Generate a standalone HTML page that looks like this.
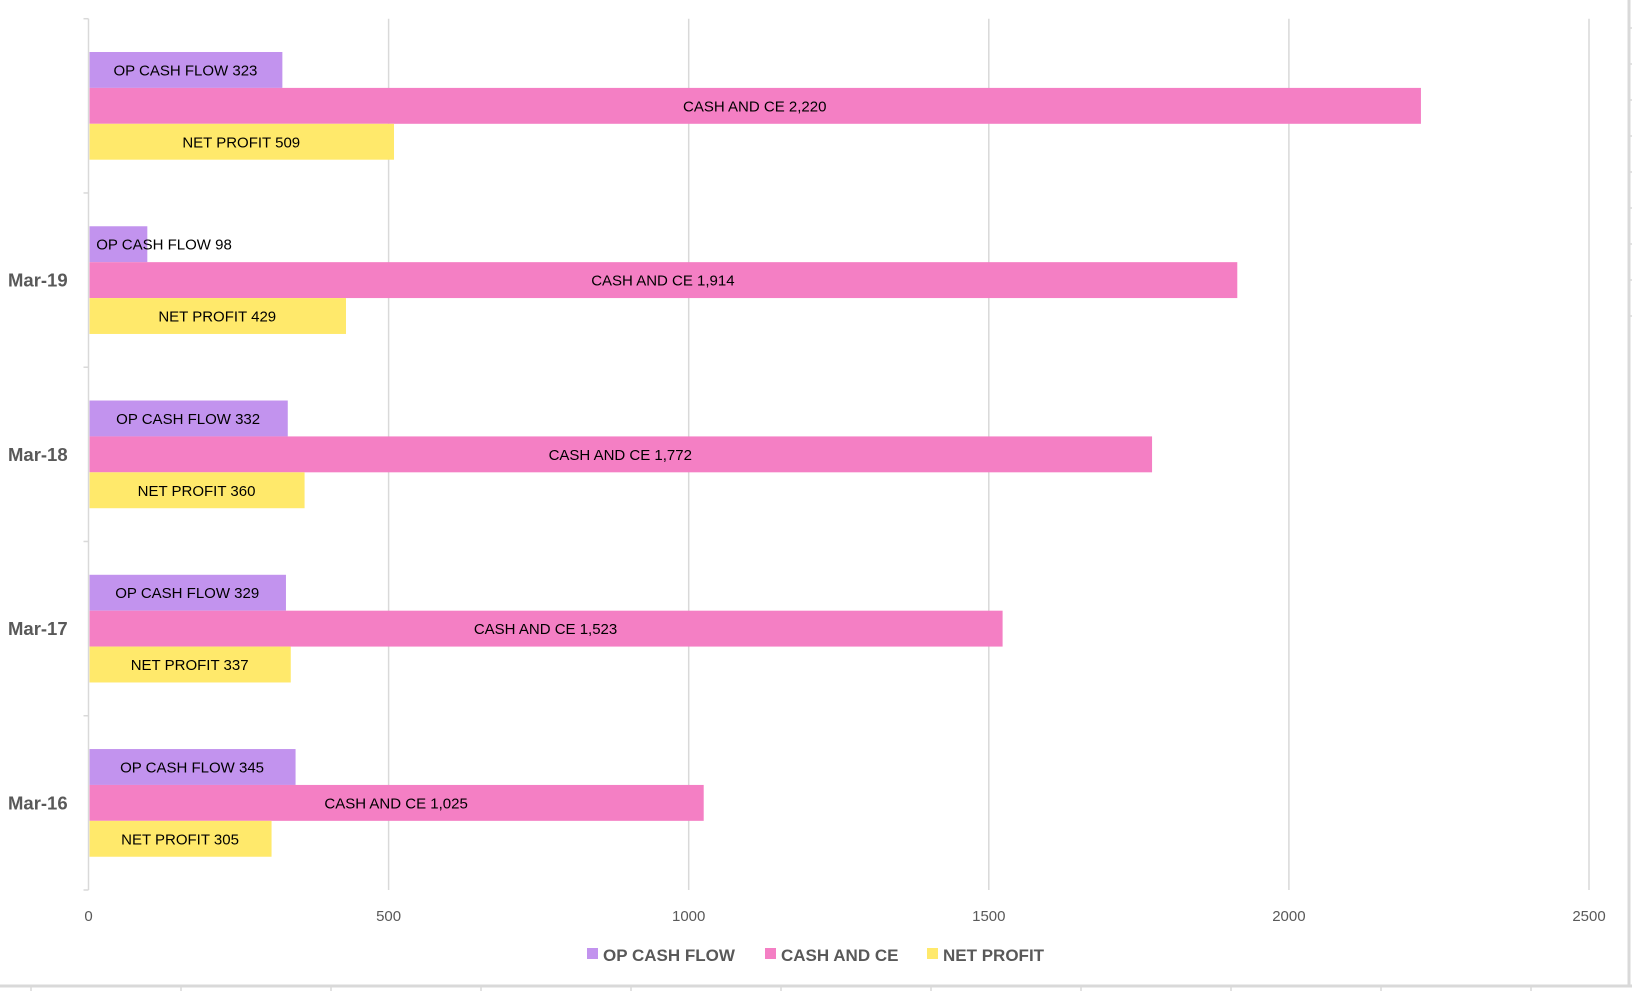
<!DOCTYPE html>
<html><head><meta charset="utf-8"><style>
html,body{margin:0;padding:0;background:#fff;}
svg{display:block;font-family:"Liberation Sans",sans-serif;}
</style></head><body>
<svg id="chart" width="1632" height="991" viewBox="0 0 1632 991" xmlns="http://www.w3.org/2000/svg">
<g id="frame"></g>
<g id="grid"></g>
<g id="bars"></g>
<g id="labels"></g>
<g id="axes"></g>
<g id="legend"></g>
</svg>
<script>
const categories = ["", "Mar-19", "Mar-18", "Mar-17", "Mar-16"];
const opCashFlow = [323, 98, 332, 329, 345];
const cashAndCe = [2220, 1914, 1772, 1523, 1025];
const netProfit = [509, 429, 360, 337, 305];
const xTicks = [0, 500, 1000, 1500, 2000, 2500];
const seriesNames = ["OP CASH FLOW", "CASH AND CE", "NET PROFIT"];

const NS = "http://www.w3.org/2000/svg";
const X0 = 88.5, X1 = 1589, XMAX = 2500;
const TOP = 18.7, BOT = 890;
const band = (BOT - TOP) / categories.length;
const barH = 35.9, groupOff = 33.3;
const colors = ["#C293EE", "#F47FC4", "#FFE96B"];
const series = [opCashFlow, cashAndCe, netProfit];
function xs(v){ return X0 + v * (X1 - X0) / XMAX; }
function el(tag, attrs, parent){
  const e = document.createElementNS(NS, tag);
  for (const k in attrs) e.setAttribute(k, attrs[k]);
  parent.appendChild(e); return e;
}
const gFrame = document.getElementById('frame');
const gGrid = document.getElementById('grid');
const gBars = document.getElementById('bars');
const gLab = document.getElementById('labels');
const gAx = document.getElementById('axes');
const gLeg = document.getElementById('legend');

let fl = el('line', {x1:0, y1:986, x2:1632, y2:986, stroke:'#d9d9d9', 'stroke-width':3}, gFrame);


fl = el('line', {x1:1629, y1:0, x2:1629, y2:986, stroke:'#d9d9d9', 'stroke-width':3}, gFrame);


for (let i = 0; i < 11; i++) {
  const t = el('line', {x1:31 + i*150, y1:986, x2:31 + i*150, y2:991, stroke:'#d9d9d9', 'stroke-width':1.5}, gFrame);
  
  
}
for (let i = 0; i < 9; i++) {
  const t = el('line', {x1:1629, y1:28 + i*36, x2:1632, y2:28 + i*36, stroke:'#d9d9d9', 'stroke-width':1.5}, gFrame);
  
  
}

xTicks.forEach(v => {
  if (v > 0) {
    const g = el('line', {x1:xs(v), y1:TOP, x2:xs(v), y2:BOT, stroke:'#d9d9d9', 'stroke-width':1.5}, gGrid);
    
    
  }
  const t = el('text', {x:xs(v), y:921, 'text-anchor':'middle', 'font-size':15, fill:'#595959'}, gAx);
  t.textContent = v;
  
  
});
const ax = el('line', {x1:X0, y1:TOP, x2:X0, y2:BOT, stroke:'#d9d9d9', 'stroke-width':1.5}, gAx);


for (let i = 0; i <= categories.length; i++) {
  const y = TOP + i*band;
  const t = el('line', {x1:X0-5, y1:y, x2:X0, y2:y, stroke:'#d9d9d9', 'stroke-width':1.5}, gAx);
  
  
}
categories.forEach((c, i) => {
  const gy = TOP + i*band + groupOff;
  if (c) {
    const t = el('text', {x:8, y:gy + barH*1.5 + 6.5, 'font-size':18.5, 'font-weight':'bold', fill:'#595959'}, gAx);
    t.textContent = c;
    
    
  }
  series.forEach((s, j) => {
    const y = gy + j*barH;
    const w = xs(s[i]) - X0;
    const r = el('rect', {x:X0+1, y:y, width:w-1, height:barH, fill:colors[j]}, gBars);
    
    
    const label = seriesNames[j] + ' ' + s[i].toLocaleString('en-US');
    const estW = label.length * 8.6;
    let cx = X0 + w/2;
    if (cx - estW/2 < X0 + 11) cx = X0 + 11 + estW/2;
    const t = el('text', {x:cx, y:y + barH/2 + 5.5, 'text-anchor':'middle', 'font-size':15, fill:'#000'}, gLab);
    t.textContent = label;
    
    
  });
});
const legX = [587, 765, 927];
seriesNames.forEach((n, j) => {
  const r = el('rect', {x:legX[j], y:948, width:11, height:11, fill:colors[j]}, gLeg);
  
  
  const t = el('text', {x:legX[j] + 16, y:961, 'font-size':17, 'font-weight':'bold', fill:'#595959'}, gLeg);
  t.textContent = n;
  
  
});
</script>
</body></html>
